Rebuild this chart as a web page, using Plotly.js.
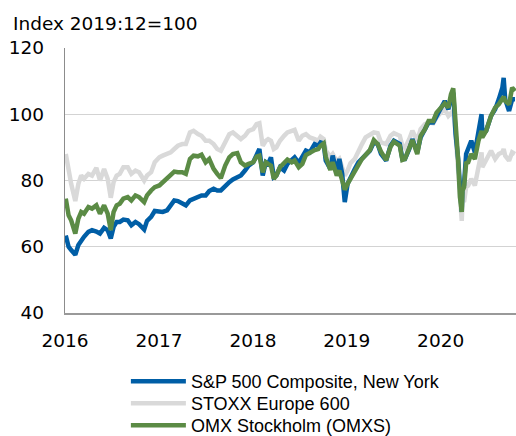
<!DOCTYPE html>
<html>
<head>
<meta charset="utf-8">
<script src="https://cdn.plot.ly/plotly-3.0.1.min.js"></script>
<style>
  html, body { margin: 0; padding: 0; background: #ffffff; }
  #chart { width: 516px; height: 436px; }
</style>
</head>
<body>
<div id="chart"></div>
<script>
// ---- Data (Index 2019:12 = 100) ----
const dates = [
  "2016-01-04","2016-01-15","2016-01-25","2016-02-10","2016-02-22","2016-03-04","2016-03-15","2016-04-01","2016-04-15","2016-05-02","2016-05-16","2016-06-01","2016-06-15","2016-06-27","2016-07-08","2016-07-20","2016-08-01","2016-08-15","2016-09-01","2016-09-15","2016-10-01","2016-10-15","2016-11-04","2016-11-15","2016-12-01","2016-12-15",
  "2017-01-02","2017-01-15","2017-02-01","2017-02-15","2017-03-01","2017-03-15","2017-04-01","2017-04-15","2017-05-01","2017-05-15","2017-06-01","2017-06-15","2017-07-01","2017-07-15","2017-08-01","2017-08-15","2017-08-29","2017-09-15","2017-10-01","2017-10-15","2017-11-01","2017-11-15","2017-12-01","2017-12-15",
  "2018-01-02","2018-01-15","2018-01-26","2018-02-08","2018-02-20","2018-03-01","2018-03-12","2018-03-23","2018-04-02","2018-04-16","2018-05-02","2018-05-15","2018-06-01","2018-06-12","2018-06-28","2018-07-12","2018-07-26","2018-08-10","2018-08-29","2018-09-12","2018-09-21","2018-10-03","2018-10-11","2018-10-29","2018-11-07","2018-11-23","2018-12-03","2018-12-14","2018-12-24",
  "2019-01-04","2019-01-15","2019-02-01","2019-02-15","2019-03-01","2019-03-15","2019-04-01","2019-04-16","2019-05-01","2019-05-14","2019-06-03","2019-06-20","2019-07-03","2019-07-26","2019-08-05","2019-08-15","2019-09-01","2019-09-13","2019-10-02","2019-10-15","2019-11-01","2019-11-15","2019-12-03","2019-12-16",
  "2020-01-02","2020-01-17","2020-01-31","2020-02-10","2020-02-19","2020-02-28","2020-03-09","2020-03-16","2020-03-23","2020-03-26","2020-04-01","2020-04-09","2020-04-17","2020-04-29","2020-05-13","2020-05-27","2020-06-08","2020-06-11","2020-06-26","2020-07-15","2020-07-31","2020-08-14","2020-08-28","2020-09-02","2020-09-08","2020-09-23","2020-10-05","2020-10-16"
];

const sp500 = [
  63.4,60.0,59.0,57.6,60.5,62.0,63.0,64.5,65.0,64.6,64.0,65.7,65.0,62.5,66.0,67.5,67.5,68.2,68.0,66.5,67.5,66.8,65.2,67.8,69.0,70.8,
  70.5,70.5,71.0,72.8,74.0,73.8,73.0,72.5,74.0,74.5,75.0,75.5,75.5,76.8,77.5,77.0,77.0,78.5,79.5,80.3,81.0,81.5,83.0,84.5,
  85.5,87.5,89.5,81.5,85.5,85.0,87.0,81.0,81.5,84.0,83.0,85.0,86.0,87.0,85.3,87.5,89.0,88.5,91.0,90.5,91.5,91.2,86.0,83.5,87.5,82.5,86.5,82.0,73.5,
  79.0,81.0,83.5,85.5,86.5,87.5,89.0,91.5,91.0,88.0,86.0,90.5,92.0,91.0,86.5,86.5,89.5,92.5,88.5,93.0,95.5,97.5,97.5,99.5,
  101.5,104.0,101.5,105.0,106.5,94.0,86.5,75.0,70.5,79.0,79.0,88.0,89.5,92.0,88.5,94.5,100.0,94.5,95.0,99.5,101.5,104.5,108.0,111.0,104.5,101.0,104.5,104.5
];

const stoxx600 = [
  88.0,82.5,79.0,73.8,79.0,81.5,80.5,82.0,81.5,83.8,80.0,83.5,80.5,74.8,79.5,81.5,82.0,84.0,84.0,82.0,83.0,82.5,80.0,81.5,82.5,85.5,
  87.0,87.5,88.0,88.5,89.5,90.5,91.0,91.0,94.5,95.0,94.0,93.5,92.0,92.0,91.0,89.5,89.0,92.0,94.0,94.5,93.5,92.5,93.5,95.0,
  95.5,97.0,97.3,90.5,92.0,92.5,92.0,89.5,90.0,92.0,93.5,94.5,95.0,95.3,92.0,93.5,94.0,93.0,92.5,92.0,93.2,92.5,89.0,87.2,88.0,85.7,86.5,83.5,81.5,
  83.0,85.2,86.5,89.0,91.0,93.0,94.0,94.5,94.3,91.5,91.0,93.5,94.3,93.5,90.5,89.8,92.5,95.0,92.0,95.5,97.0,97.5,97.3,99.0,
  100.5,101.5,99.5,100.5,101.0,94.0,83.0,72.0,67.8,74.0,73.5,78.0,78.5,80.5,78.5,84.0,88.5,84.0,86.5,89.0,86.5,88.0,88.5,89.5,87.5,86.0,88.5,88.0
];

const omxs = [
  74.5,69.5,68.0,64.0,68.5,70.5,70.0,72.0,71.5,72.5,70.0,72.5,70.0,65.0,70.5,72.5,73.0,74.5,75.0,74.0,75.5,75.0,73.5,75.5,77.0,78.0,
  78.5,79.5,80.5,81.5,82.7,82.5,82.5,82.0,86.5,87.5,87.3,87.8,85.5,86.5,83.5,82.0,80.7,84.5,87.0,88.0,88.3,85.5,84.5,85.0,
  85.5,87.2,87.5,82.5,85.5,85.0,84.5,80.5,81.5,84.0,85.3,86.3,85.5,86.0,84.0,85.0,87.7,88.5,89.2,89.5,90.5,91.2,87.2,83.2,85.5,81.5,83.0,80.0,77.2,
  79.0,80.5,83.0,85.2,86.5,87.7,89.2,92.2,91.0,88.7,86.2,90.2,91.7,90.5,86.2,86.5,89.5,92.2,88.0,93.5,95.5,98.0,98.0,100.5,
  102.0,103.3,102.0,106.0,107.8,98.5,86.0,75.0,70.5,77.0,78.0,85.2,85.5,88.0,86.5,92.0,95.0,93.0,95.0,99.5,102.0,103.0,104.5,105.3,104.0,103.0,108.0,107.0
];

const seriesNames = ["S&P 500 Composite, New York", "STOXX Europe 600", "OMX Stockholm (OMXS)"];
const yearTicks = ["2016-01-01","2017-01-01","2018-01-01","2019-01-01","2020-01-01"];
const yearLabels = ["2016","2017","2018","2019","2020"];
const yTicks = [40, 60, 80, 100, 120];
const chartTitle = "Index 2019:12=100";

// ---- Styling ----
const BLUE = "#005ea6";
const GREY = "#d9d9d9";
const GREEN = "#5b8b45";
const LW = 4.5;

// draw order: grey at the back, blue, green on top; each series has its own legend row
const traces = [
  { x: dates, y: stoxx600, name: seriesNames[1], type: "scatter", mode: "lines",
    line: { color: GREY, width: LW }, legend: "legend2" },
  { x: dates, y: sp500, name: seriesNames[0], type: "scatter", mode: "lines",
    line: { color: BLUE, width: LW }, legend: "legend" },
  { x: dates, y: omxs, name: seriesNames[2], type: "scatter", mode: "lines",
    line: { color: GREEN, width: LW }, legend: "legend3" }
];

const tickFont = { family: "DejaVu Sans, Liberation Sans, Arial, sans-serif", size: 18.5, color: "#000000" };
const legendFont = { family: "Liberation Sans, Arial, Helvetica, sans-serif", size: 18, color: "#000000" };

// plot area spans pixel rows 48..313 (265 px)
function legendAt(rowCenterPx) {
  return {
    orientation: "v",
    x: 0.135, xanchor: "left",
    y: (313 - rowCenterPx) / 265, yanchor: "middle",
    bgcolor: "rgba(0,0,0,0)",
    borderwidth: 0,
    itemwidth: 55,
    font: legendFont
  };
}

const layout = {
  width: 516,
  height: 436,
  margin: { l: 65, r: 0, t: 48, b: 123, pad: 0, autoexpand: false },
  paper_bgcolor: "#ffffff",
  plot_bgcolor: "#ffffff",
  font: legendFont,
  showlegend: true,
  legend: legendAt(381.5),
  legend2: legendAt(403.5),
  legend3: legendAt(425.5),
  xaxis: {
    type: "date",
    range: ["2016-01-01", "2020-10-20"],
    tickmode: "array",
    tickvals: yearTicks,
    ticktext: yearLabels,
    showgrid: false,
    zeroline: false,
    showline: true,
    linecolor: "#999999",
    linewidth: 1.5,
    ticks: "",
    ticklabelstandoff: 10,
    tickfont: tickFont,
    fixedrange: true
  },
  yaxis: {
    range: [40, 120],
    tickmode: "array",
    tickvals: yTicks,
    showgrid: true,
    gridcolor: "#d3d3d3",
    gridwidth: 1.2,
    zeroline: false,
    showline: true,
    linecolor: "#8c8c8c",
    linewidth: 1.2,
    ticks: "",
    ticklabelstandoff: 16,
    tickfont: tickFont,
    fixedrange: true
  },
  annotations: [
    { text: chartTitle, xref: "paper", yref: "paper",
      x: -0.12, xanchor: "left", y: 1.092, yanchor: "middle",
      showarrow: false, font: tickFont }
  ]
};

Plotly.newPlot("chart", traces, layout, { displayModeBar: false, staticPlot: true });
</script>
</body>
</html>
